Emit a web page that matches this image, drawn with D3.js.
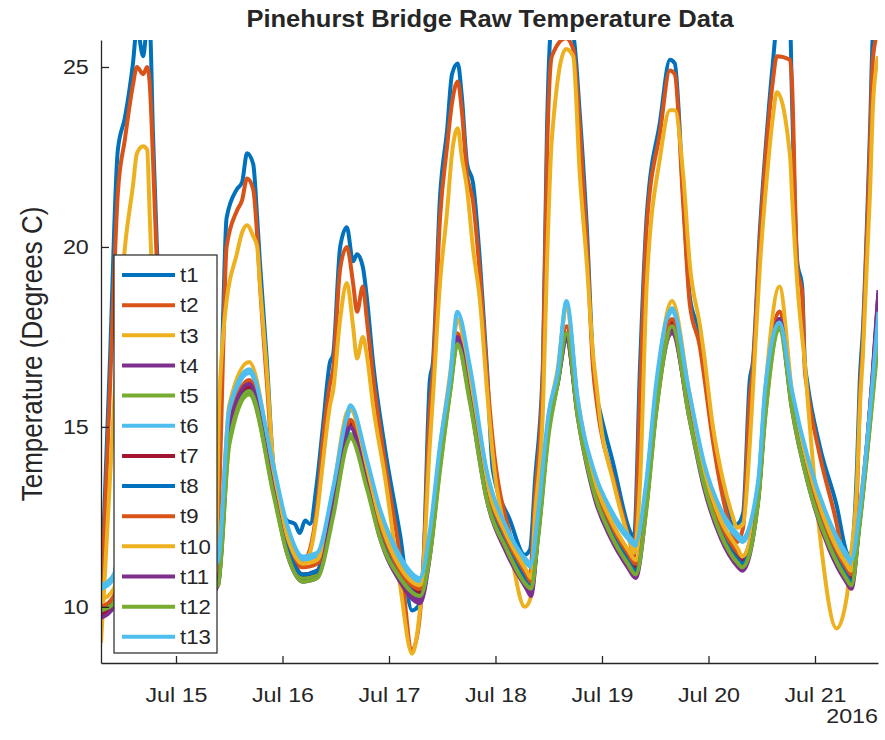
<!DOCTYPE html>
<html>
<head>
<meta charset="utf-8">
<script src="https://cdn.jsdelivr.net/npm/d3@7"></script>
<style>
  body { margin: 0; background: #fff; }
  svg text { font-family: "Liberation Sans", Arial, sans-serif; fill: #262626; }
</style>
</head>
<body>
<svg id="chart"></svg>
<script>
// hours counted from Jul 14 2016 00:00
const xStartHour = 7.1;
const xEndHour = 182.2;
const yDomain = [8.44, 25.75];
const yTicks = [10, 15, 20, 25];
const xTickDays = [15, 16, 17, 18, 19, 20, 21];

// t1..t3 (the big daily swings) share these sample times
const hoursHigh = [
  7.1, 7.8, 9.1, 10.9, 12.5, 14.3, 15.2, 16.6, 17.5, 18.1,
  18.8, 19.7, 21.5, 26.0, 30.5, 32.8, 33.7, 34.6, 35.4, 37.7,
  38.9, 40.0, 41.4, 42.3, 42.9, 44.5, 45.9, 49.0, 50.8, 51.9,
  53.1, 54.2, 55.8, 57.1, 58.7, 59.4, 61.0, 62.5, 63.9, 64.8,
  66.1, 67.0, 68.4, 71.1, 74.5, 77.2, 78.5, 79.7, 81.2, 81.9,
  83.5, 85.1, 86.2, 87.5, 88.4, 89.6, 90.9, 92.5, 94.1, 95.4,
  99.3, 102.6, 103.8, 104.9, 106.7, 107.6, 108.7, 111.9, 113.5, 115.0,
  116.6, 118.0, 118.9, 119.6, 122.5, 126.3, 127.2, 128.6, 130.1, 133.1,
  135.3, 136.4, 138.3, 139.8, 142.1, 142.8, 145.0, 147.3, 149.5, 150.4,
  151.8, 153.3, 154.0, 155.6, 157.2, 158.5, 159.4, 162.4, 162.8, 164.0,
  165.1, 165.7, 166.2, 169.1, 172.9, 175.2, 175.9, 177.5, 178.1, 178.8,
  180.4, 181.1, 182.2
];

const t1 = [
  10.2, 12.5, 16.8, 22.7, 23.6, 25.1, 26.1, 25.3, 26.1, 26.1,
  23.2, 20.0, 16.5, 13.0, 11.2, 11.0, 13.5, 18.0, 20.8, 21.6,
  21.8, 22.6, 22.3, 20.8, 19.6, 16.8, 14.0, 12.4, 12.3, 12.05,
  12.4, 12.3, 13.5, 15.0, 16.8, 17.0, 20.0, 20.55, 19.6, 19.8,
  19.45, 18.6, 16.8, 14.4, 12.0, 9.9, 10.0, 11.1, 16.3, 16.8,
  21.4, 23.25, 24.8, 25.1, 24.2, 22.3, 21.8, 19.6, 16.6, 13.8,
  12.4, 11.45, 11.6, 13.5, 16.8, 23.25, 26.2, 26.2, 25.9, 23.7,
  20.5, 16.8, 15.8, 15.4, 14.0, 12.1, 11.9, 16.8, 20.9, 23.5,
  25.2, 25.1, 21.4, 18.6, 17.5, 16.8, 14.9, 13.25, 12.3, 12.3,
  12.6, 16.3, 16.8, 20.5, 23.25, 25.1, 26.1, 26.1, 24.2, 19.6,
  18.9, 16.8, 16.3, 14.45, 12.8, 11.5, 11.4, 14.0, 16.3, 17.7,
  23.25, 26.0, 26.3
];
const t2 = [
  10.0, 12.0, 16.0, 21.5, 23.0, 24.5, 25.0, 24.8, 25.0, 24.5,
  22.5, 19.5, 16.0, 12.6, 10.8, 10.6, 12.8, 17.0, 20.0, 21.0,
  21.3, 21.9, 21.6, 20.3, 19.0, 16.2, 13.8, 12.0, 11.5, 11.2,
  11.3, 11.6, 12.8, 14.6, 16.2, 16.6, 19.4, 20.0, 19.0, 18.2,
  18.9, 18.0, 16.4, 14.0, 11.4, 8.8, 9.3, 11.0, 15.5, 16.5,
  20.8, 22.8, 24.0, 24.6, 23.8, 22.0, 21.3, 19.2, 16.4, 14.6,
  12.0, 10.8, 10.9, 13.0, 16.5, 22.5, 25.3, 25.8, 25.5, 23.3,
  20.1, 16.6, 15.6, 15.0, 13.6, 11.8, 11.4, 16.0, 20.6, 23.2,
  24.9, 24.8, 21.2, 18.4, 17.2, 16.6, 14.6, 13.0, 12.0, 11.8,
  12.2, 15.8, 16.6, 20.2, 23.0, 24.6, 25.3, 25.2, 24.6, 19.4,
  18.7, 16.6, 16.1, 14.2, 12.3, 10.8, 10.6, 13.2, 15.8, 17.3,
  22.8, 25.3, 26.0
];
const t3 = [
  9.0, 10.5, 13.5, 17.5, 20.0, 21.7, 22.6, 22.8, 22.7, 20.8,
  18.6, 17.0, 15.0, 12.2, 10.6, 10.4, 15.5, 17.5, 18.5, 19.8,
  20.4, 20.6, 20.3, 20.0, 19.0, 16.5, 14.0, 12.2, 11.5, 11.1,
  11.2, 11.5, 12.6, 14.0, 15.6, 16.0, 18.0, 19.0, 17.8, 16.9,
  17.5, 17.0, 15.6, 13.6, 10.6, 8.7, 9.4, 11.0, 14.5, 15.8,
  19.0, 21.0, 22.6, 23.3, 22.5, 21.6, 20.0, 18.5, 16.0, 14.2,
  11.6, 10.0, 10.2, 12.5, 15.5, 19.5, 23.0, 25.5, 25.3, 22.0,
  19.5, 17.0, 16.0, 15.2, 13.5, 11.8, 11.5, 13.5, 19.0, 22.5,
  23.8, 23.8, 22.0, 19.5, 17.8, 17.2, 15.0, 13.5, 12.5, 12.2,
  12.3, 14.5, 16.0, 19.5, 22.0, 23.6, 24.3, 22.5, 21.5, 19.0,
  17.5, 16.8, 16.0, 12.0, 9.4, 10.3, 11.2, 13.5, 15.5, 17.0,
  21.5, 24.0, 25.3
];

// t4..t13 (the damped group) share these sample times
const hoursLow = [
  7.2, 10, 13, 16.5, 20, 24, 28, 32, 33.5, 36,
  40.5, 46, 49, 52.6, 55.8, 59.4, 62.5, 63.3, 67, 70,
  74.5, 79, 81.2, 83.5, 85.8, 87.4, 90.2, 94, 98.5, 103,
  104, 105.6, 108, 110, 112, 114.5, 118.4, 122, 125.8, 127.6,
  130, 132.2, 135.8, 139.6, 143, 146.8, 150.7, 151.6, 155.2, 156.8,
  160, 162.8, 166.7, 171.2, 175, 176.2, 178, 181, 182.3
];

const t4 = [
  9.8, 10.1, 13.4, 15.7, 13.5, 11.9, 11.0, 10.5, 10.7, 14.8,
  16.1, 13.3, 11.6, 10.8, 10.9, 12.9, 14.9, 15.1, 13.5, 12.0,
  10.8, 10.2, 11.5, 14.1, 16.2, 17.4, 15.9, 13.1, 11.6, 10.6,
  10.4, 12.1, 15.0, 16.2, 17.4, 15.4, 13.1, 12.0, 11.2, 10.9,
  12.9, 15.5, 17.6, 15.4, 13.4, 12.0, 11.2, 11.1, 13.0, 15.5,
  17.9, 15.6, 13.4, 11.7, 10.8, 10.6, 12.4, 16.4, 18.7
];
const t5 = [
  10.0, 10.2, 13.1, 15.5, 13.5, 11.9, 11.1, 10.6, 10.7, 14.5,
  15.9, 13.2, 11.6, 10.8, 10.9, 12.6, 14.6, 14.8, 13.4, 12.0,
  10.9, 10.4, 11.5, 13.9, 16.0, 17.3, 15.8, 13.1, 11.7, 10.7,
  10.6, 12.0, 14.9, 16.2, 17.5, 15.4, 13.2, 12.1, 11.3, 11.0,
  12.8, 15.4, 17.7, 15.4, 13.5, 12.1, 11.3, 11.2, 13.0, 15.3,
  17.7, 15.6, 13.4, 11.8, 10.9, 10.7, 12.3, 15.8, 17.5
];
const t6 = [
  10.6, 10.9, 14.2, 16.4, 14.3, 12.6, 11.7, 11.2, 11.4, 15.3,
  16.5, 13.8, 12.2, 11.3, 11.4, 13.2, 15.2, 15.5, 14.0, 12.6,
  11.3, 10.7, 11.9, 14.3, 16.2, 18.0, 16.5, 13.7, 12.1, 11.2,
  11.1, 12.5, 15.2, 16.4, 18.4, 15.7, 13.6, 12.6, 11.9, 11.7,
  13.4, 16.0, 18.2, 15.9, 13.9, 12.6, 11.9, 11.8, 13.4, 16.0,
  17.8, 15.9, 13.9, 12.3, 11.4, 11.2, 12.5, 16.1, 18.0
];
const t7 = [
  9.8, 10.1, 13.5, 15.8, 13.6, 12.0, 11.1, 10.6, 10.8, 14.9,
  16.1, 13.4, 11.8, 10.9, 11.0, 12.9, 14.9, 15.1, 13.6, 12.1,
  10.9, 10.4, 11.6, 14.1, 16.2, 17.5, 16.0, 13.3, 11.8, 10.8,
  10.6, 12.1, 15.0, 16.3, 17.6, 15.5, 13.3, 12.2, 11.4, 11.1,
  13.0, 15.6, 17.9, 15.6, 13.6, 12.2, 11.4, 11.3, 13.1, 15.6,
  18.2, 15.7, 13.6, 11.9, 11.0, 10.8, 12.4, 16.3, 18.6
];
const t8 = [
  9.9, 10.2, 13.3, 15.7, 13.6, 12.0, 11.1, 10.6, 10.8, 14.8,
  16.0, 13.3, 11.7, 10.9, 11.0, 12.8, 14.8, 15.0, 13.5, 12.0,
  10.9, 10.3, 11.5, 14.0, 16.1, 17.4, 15.9, 13.2, 11.7, 10.7,
  10.5, 12.0, 15.0, 16.2, 17.5, 15.4, 13.2, 12.1, 11.3, 11.0,
  12.9, 15.5, 17.8, 15.5, 13.5, 12.1, 11.3, 11.2, 13.0, 15.5,
  18.0, 15.6, 13.5, 11.8, 10.9, 10.7, 12.3, 16.2, 18.4
];
const t9 = [
  10.0, 10.3, 13.6, 15.9, 13.8, 12.2, 11.3, 10.8, 11.0, 15.0,
  16.3, 13.6, 12.0, 11.1, 11.2, 13.0, 15.0, 15.2, 13.7, 12.3,
  11.0, 10.5, 11.7, 14.2, 16.3, 17.6, 16.1, 13.4, 11.9, 10.9,
  10.7, 12.2, 15.1, 16.4, 17.8, 15.6, 13.4, 12.3, 11.5, 11.2,
  13.1, 15.7, 18.0, 15.7, 13.7, 12.3, 11.5, 11.4, 13.2, 15.7,
  18.2, 15.8, 13.7, 12.0, 11.1, 10.9, 12.5, 16.4, 18.7
];
const t10 = [
  10.2, 10.5, 14.2, 16.4, 14.0, 12.3, 11.4, 10.9, 11.1, 15.6,
  16.8, 13.7, 12.0, 11.2, 11.3, 13.2, 15.4, 15.5, 13.9, 12.4,
  11.1, 10.6, 11.8, 14.4, 16.5, 18.0, 16.4, 13.5, 12.0, 11.0,
  10.8, 12.3, 15.3, 16.6, 18.3, 15.8, 13.5, 12.4, 11.6, 11.3,
  13.3, 16.0, 18.5, 16.0, 13.8, 12.4, 11.6, 11.4, 13.3, 16.0,
  18.9, 16.0, 13.8, 12.1, 11.2, 11.0, 12.6, 16.2, 18.3
];
const t11 = [
  9.7, 10.0, 13.2, 15.6, 13.4, 11.8, 10.9, 10.4, 10.6, 15.0,
  16.2, 13.2, 11.5, 10.7, 10.8, 12.8, 14.9, 15.0, 13.4, 11.9,
  10.7, 10.1, 11.4, 14.0, 16.2, 17.5, 15.8, 13.0, 11.5, 10.5,
  10.3, 12.0, 15.0, 16.3, 17.5, 15.3, 13.0, 11.9, 11.1, 10.8,
  12.8, 15.6, 17.7, 15.3, 13.3, 11.9, 11.1, 11.0, 13.0, 15.6,
  18.0, 15.5, 13.3, 11.6, 10.7, 10.5, 12.3, 16.5, 18.8
];
const t12 = [
  9.9, 10.1, 13.0, 15.4, 13.4, 11.8, 11.0, 10.5, 10.6, 14.6,
  16.0, 13.1, 11.5, 10.7, 10.8, 12.5, 14.5, 14.7, 13.3, 11.9,
  10.8, 10.3, 11.4, 13.8, 16.0, 17.3, 15.7, 13.0, 11.6, 10.6,
  10.5, 11.9, 14.8, 16.2, 17.6, 15.3, 13.1, 12.0, 11.2, 10.9,
  12.7, 15.4, 17.8, 15.3, 13.4, 12.0, 11.2, 11.1, 12.9, 15.3,
  17.8, 15.5, 13.3, 11.7, 10.8, 10.6, 12.2, 15.9, 17.6
];
const t13 = [
  10.5, 10.8, 14.0, 16.2, 14.2, 12.5, 11.6, 11.1, 11.3, 15.5,
  16.6, 13.9, 12.3, 11.4, 11.5, 13.3, 15.3, 15.6, 14.1, 12.7,
  11.4, 10.8, 12.1, 14.5, 16.4, 18.2, 16.7, 13.8, 12.2, 11.3,
  11.2, 12.6, 15.4, 16.5, 18.5, 15.8, 13.7, 12.7, 12.0, 11.8,
  13.5, 16.2, 18.3, 16.0, 14.0, 12.7, 12.0, 11.9, 13.5, 16.1,
  17.9, 16.0, 14.0, 12.4, 11.5, 11.3, 12.6, 16.3, 18.2
];

const seriesNames = ['t1', 't2', 't3', 't4', 't5', 't6', 't7', 't8', 't9', 't10', 't11', 't12', 't13'];
const seriesValues = [t1, t2, t3, t4, t5, t6, t7, t8, t9, t10, t11, t12, t13];
const seriesHours = [hoursHigh, hoursHigh, hoursHigh,
  hoursLow, hoursLow, hoursLow, hoursLow, hoursLow, hoursLow, hoursLow, hoursLow, hoursLow, hoursLow];
const colorOrder = ['#0072BD', '#D95319', '#EDB120', '#7E2F8E', '#77AC30', '#4DBEEE', '#A2142F'];

const dayZero = new Date(2016, 6, 14);
const hourToDate = h => new Date(dayZero.getTime() + h * 3600 * 1000);

class tempLineChart {

    constructor(_config, _data) {
        this.config = {
            parentElement: _config.parentElement,
            containerWidth: _config.containerWidth || 885,
            containerHeight: _config.containerHeight || 740,
            margin: { top: 40, bottom: 77, right: 7, left: 101 },
            lineWidth: 4,
            stretch: 1.11
        }
        this.data = _data;
        this.initVis();
    }

    initVis() {
        let vis = this;

        vis.width = vis.config.containerWidth - vis.config.margin.left - vis.config.margin.right;
        vis.height = vis.config.containerHeight - vis.config.margin.top - vis.config.margin.bottom;

        vis.svg = d3.select(vis.config.parentElement)
            .attr('width', vis.config.containerWidth)
            .attr('height', vis.config.containerHeight);

        vis.chart = vis.svg.append('g')
            .attr('transform', `translate(${vis.config.margin.left},${vis.config.margin.top})`);

        vis.xScale = d3.scaleTime()
            .domain([hourToDate(xStartHour), hourToDate(xEndHour)])
            .range([0, vis.width]);

        vis.yScale = d3.scaleLinear()
            .domain(yDomain)
            .range([vis.height, 0]);

        vis.svg.append('defs').append('clipPath')
            .attr('id', 'plot-clip')
            .append('rect')
            .attr('width', vis.width)
            .attr('height', vis.height);

        vis.line = d3.line()
            .curve(d3.curveMonotoneX)
            .x(d => vis.xScale(d.date))
            .y(d => vis.yScale(d.value));

        vis.chart.append('g')
            .attr('clip-path', 'url(#plot-clip)')
            .selectAll('path')
            .data(vis.data)
            .join('path')
            .attr('fill', 'none')
            .attr('stroke', d => d.color)
            .attr('stroke-width', vis.config.lineWidth)
            .attr('stroke-linejoin', 'round')
            .attr('d', d => vis.line(d.points));

        // axes, ticks point inwards like matlab
        vis.xAxis = d3.axisBottom(vis.xScale)
            .tickValues(xTickDays.map(d => new Date(2016, 6, d)))
            .tickFormat(d3.timeFormat('%b %d'))
            .tickSizeInner(-7)
            .tickSizeOuter(0)
            .tickPadding(24);

        vis.yAxis = d3.axisLeft(vis.yScale)
            .tickValues(yTicks)
            .tickSizeInner(-8)
            .tickSizeOuter(0)
            .tickPadding(11);

        vis.xAxisGroup = vis.chart.append('g')
            .attr('transform', `translate(0,${vis.height})`)
            .call(vis.xAxis);

        vis.yAxisGroup = vis.chart.append('g')
            .call(vis.yAxis);

        vis.chart.selectAll('.domain, .tick line')
            .attr('stroke', '#262626')
            .attr('stroke-width', 1.3);

        vis.chart.selectAll('.tick text')
            .attr('font-size', 21)
            .attr('fill', '#262626')
            .attr('transform', `scale(${vis.config.stretch},1)`);

        vis.svg.append('text')
            .attr('text-anchor', 'end')
            .attr('font-size', 21)
            .attr('transform', `translate(878,723) scale(${vis.config.stretch},1)`)
            .text('2016');

        vis.svg.append('text')
            .attr('text-anchor', 'middle')
            .attr('font-size', 23)
            .attr('font-weight', 'bold')
            .attr('fill', '#000')
            .attr('transform', `translate(490,27) scale(${vis.config.stretch},1)`)
            .text('Pinehurst Bridge Raw Temperature Data');

        vis.svg.append('text')
            .attr('text-anchor', 'middle')
            .attr('font-size', 26)
            .attr('transform', `translate(42,354) rotate(-90) scale(1,${vis.config.stretch})`)
            .text('Temperature (Degrees C)');

        vis.renderLegend();
    }

    renderLegend() {
        let vis = this;

        const legend = vis.svg.append('g')
            .attr('transform', 'translate(114,255)');

        legend.append('rect')
            .attr('width', 103)
            .attr('height', 398)
            .attr('fill', '#fff')
            .attr('stroke', '#262626')
            .attr('stroke-width', 1.2);

        const rows = legend.selectAll('g.row')
            .data(vis.data)
            .join('g')
            .attr('class', 'row')
            .attr('transform', (d, i) => `translate(0,${20 + i * 30.15})`);

        rows.append('line')
            .attr('x1', 8)
            .attr('x2', 61)
            .attr('stroke', d => d.color)
            .attr('stroke-width', vis.config.lineWidth);

        rows.append('text')
            .attr('font-size', 20)
            .attr('dy', '0.36em')
            .attr('transform', `translate(66,0) scale(${vis.config.stretch},1)`)
            .text(d => d.name);
    }
}

const chartData = seriesNames.map((name, i) => {
    const hours = seriesHours[i];
    const values = seriesValues[i];
    if (hours.length !== values.length) {
        throw new Error(`${name}: ${values.length} values for ${hours.length} times`);
    }
    return {
        name: name,
        color: colorOrder[i % colorOrder.length],
        points: values.map((v, j) => ({ date: hourToDate(hours[j]), value: v }))
    };
});

new tempLineChart({ parentElement: '#chart' }, chartData);
</script>
</body>
</html>
